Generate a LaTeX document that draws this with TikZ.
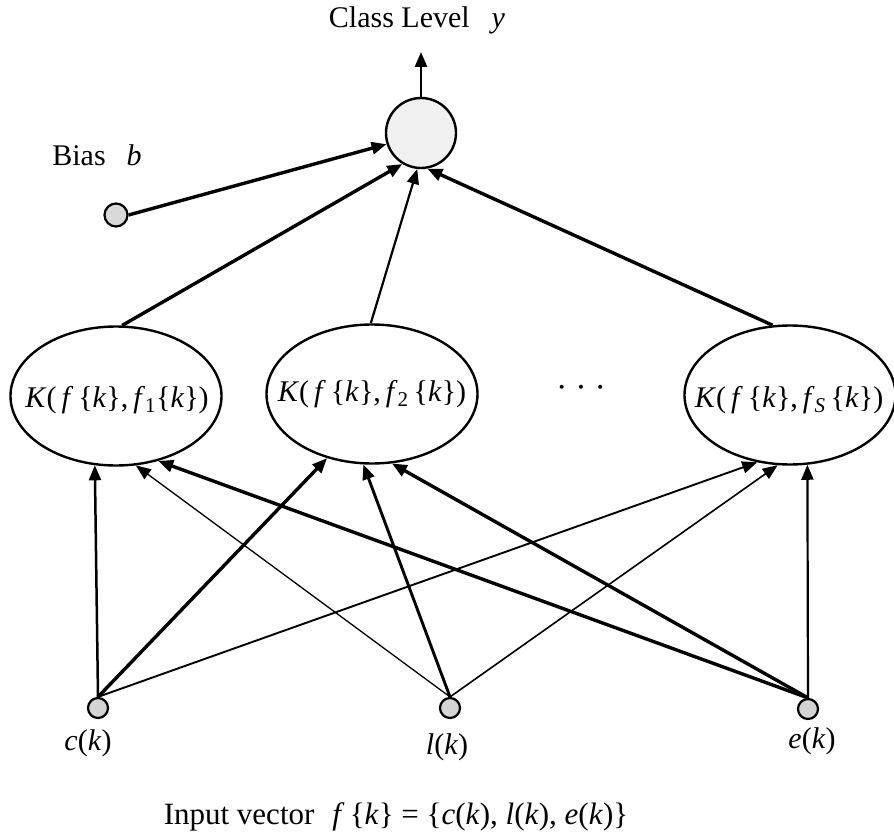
\documentclass[tikz,border=0pt]{standalone}
\usepackage{fontspec}
\setmainfont{Liberation Serif}
\usetikzlibrary{arrows.meta,shapes.geometric}
\begin{document}
\begin{tikzpicture}[x=1pt,y=-1pt,
  txt/.style={inner sep=0pt, font=\fontsize{30}{36}\selectfont},
  bottxt/.style={inner sep=0pt, font=\fontsize{31}{36}\selectfont},
  kernel/.style={draw, ellipse, line width=2.4pt, minimum width=211pt, minimum height=139pt, inner sep=0pt},
  outnode/.style={draw, circle, line width=2.4pt, fill=black!6, minimum size=70pt, inner sep=0pt},
  innode/.style={draw, circle, line width=2.2pt, fill=black!17, minimum size=20pt, inner sep=0pt},
  biasnode/.style={draw, circle, line width=2.2pt, fill=black!15, minimum size=23pt, inner sep=0pt},
  arr/.style={-{Triangle[length=15pt,width=12pt]}},
  thickln/.style={arr, line width=3.4pt},
  medln/.style={arr, line width=2.5pt},
  thinln/.style={arr, line width=1.3pt}]
\useasboundingbox (0,0) rectangle (894,832);

% nodes
\node[outnode] (out) at (421,133) {};
\coordinate (top) at (421,52);
\node[biasnode] (bias) at (116,215) {};
\node[kernel] (E1) at (116,396) {};
\node[kernel] (E2) at (372,394) {};
\node[kernel] (E3) at (790,395) {};
\node[innode] (c) at (98,708) {};
\node[innode] (l) at (450,708) {};
\node[innode] (e) at (808,709) {};

% texts
\node[txt] (title) at (417,20) {Class Level\hspace{22pt}\textit{y}};
\node[txt] (biastxt) at (97,155) {Bias\hspace{21pt}\textit{b}};
\node[txt] (K1) at (117,400) {\textit{K}(\,\textit{f}\,\{\textit{k}\},\,\textit{f}\textsubscript{1}\{\textit{k}\})};
\node[txt] (K2) at (372,394) {\textit{K}(\,\textit{f}\,\{\textit{k}\},\,\textit{f}\textsubscript{2}\,\{\textit{k}\})};
\node[txt] (K3) at (789,400) {\textit{K}(\,\textit{f}\,\{\textit{k}\},\,\textit{f}\textsubscript{\textit{S}}\,\{\textit{k}\})};
\node[inner sep=0pt, font=\fontsize{34}{36}\selectfont] (dots) at (581,392) {·\hspace{8pt}·\hspace{8pt}·};
\node[txt] (clab) at (88,743) {\textit{c}(\textit{k})};
\node[txt] (llab) at (447,747) {\textit{l}(\textit{k})};
\node[txt] (elab) at (812,741) {\textit{e}(\textit{k})};
\node[bottxt] (inlab) at (396,817) {Input vector\hspace{18pt}\textit{f}\,\{\textit{k}\} = \{\textit{c}(\textit{k}), \textit{l}(\textit{k}), \textit{e}(\textit{k})\}};

% output arrows
\draw[medln] (out.north) -- (top);
\draw[thickln] (bias.east) -- (out.198);
\draw[thickln] (E1.85) -- (out.239);
\draw[arr, line width=2.2pt] (E2.91) -- (out.264);
\draw[thickln] (E3.104) -- (out.280);

% input arrows
\draw[medln] (c.north) -- (E1.-107);
\draw[thickln] (c.north) -- (E2.-125);
\draw[arr, line width=1.9pt] (c.north) -- (E3.-116);
\draw[thinln] (l.north) -- (E1.-74);
\draw[arr, line width=2.9pt] (l.north) -- (E2.-97);
\draw[arr, line width=1.6pt] (l.north) -- (E3.-100);
\draw[thickln] (e.north) -- (E1.-57);
\draw[thickln] (e.north) -- (E2.-74);
\draw[arr, line width=2.2pt] (e.north) -- (E3.-76);
\end{tikzpicture}
\end{document}
